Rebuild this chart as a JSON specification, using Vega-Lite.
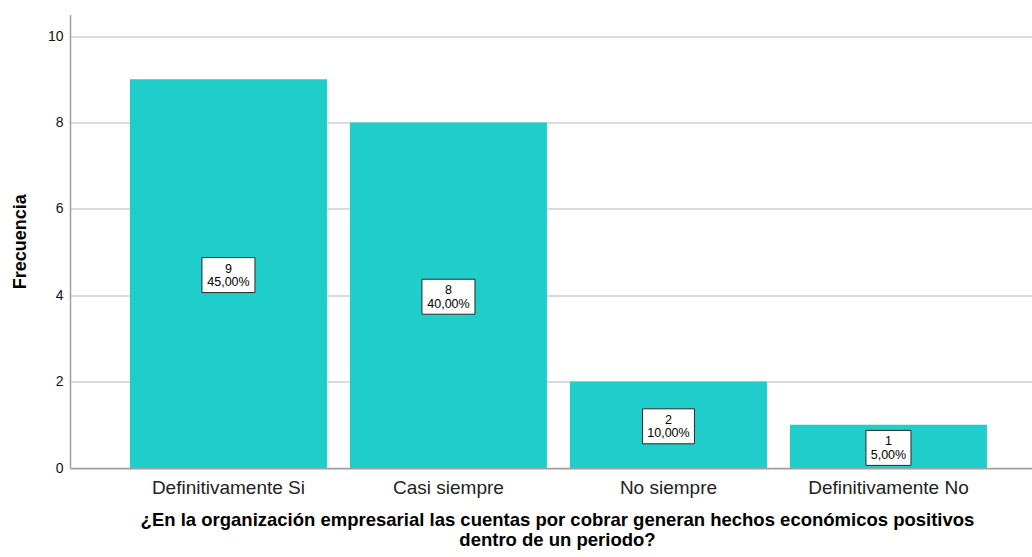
{
  "$schema": "https://vega.github.io/schema/vega-lite/v6.json",
  "width": 962,
  "height": 453.6,
  "autosize": {"type": "none"},
  "padding": {"left": 70, "top": 14.4, "right": 0, "bottom": 89},
  "background": "white",
  "config": {
    "view": {"stroke": null},
    "font": "Liberation Sans"
  },
  "data": {
    "values": [
      {"cat": "Definitivamente Si", "n": 9, "pct": "45,00%"},
      {"cat": "Casi siempre", "n": 8, "pct": "40,00%"},
      {"cat": "No siempre", "n": 2, "pct": "10,00%"},
      {"cat": "Definitivamente No", "n": 1, "pct": "5,00%"}
    ]
  },
  "encoding": {
    "x": {
      "field": "cat",
      "type": "nominal",
      "sort": null,
      "scale": {"paddingInner": 0.1045, "paddingOuter": 0.2386, "align": 0.571},
      "axis": {
        "title": ["¿En la organización empresarial las cuentas por cobrar generan hechos económicos positivos", "dentro de un periodo?"],
        "titleFontSize": 18.5,
        "titleFontWeight": "bold",
        "titleColor": "#000000",
        "titleLineHeight": 20,
        "titleBaseline": "alphabetic",
        "titleAlign": "center",
        "titleAnchor": "start",
        "titleX": 487,
        "titleY": 57,
        "labelAngle": 0,
        "labelFontSize": 19,
        "labelColor": "#222222",
        "labelPadding": 10,
        "ticks": false,
        "domainColor": "#a0a0a0",
        "domainWidth": 1.5,
        "grid": false
      }
    }
  },
  "layer": [
    {
      "mark": {"type": "bar", "color": "#1fcecb"},
      "encoding": {
        "y": {
          "field": "n",
          "type": "quantitative",
          "scale": {"domain": [0, 10.5], "nice": false},
          "axis": {
            "title": "Frecuencia",
            "titleFontSize": 18,
            "titleFontWeight": "bold",
            "titleColor": "#000000",
            "titleAngle": -90,
            "titleBaseline": "middle",
            "titleAlign": "center",
            "titleAnchor": "middle",
            "titleX": -50,
            "values": [0, 2, 4, 6, 8, 10],
            "labelFontSize": 14,
            "labelColor": "#111111",
            "labelPadding": 7,
            "ticks": false,
            "domainColor": "#a0a0a0",
            "domainWidth": 1.5,
            "grid": true,
            "gridColor": "#cfcfcf",
            "gridWidth": 1.5
          }
        }
      }
    },
    {
      "mark": {"type": "point", "filled": true, "fill": "white", "stroke": "#2a2a2a", "strokeWidth": 1, "opacity": 1, "size": 2809, "yOffset": 1.5},
      "encoding": {
        "y": {"field": "n", "type": "quantitative", "scale": {"domain": [0, 21], "nice": false}, "axis": null},
        "shape": {
          "field": "cat",
          "type": "nominal",
          "scale": {
            "domain": ["Definitivamente Si", "Casi siempre", "No siempre", "Definitivamente No"],
            "range": ["M-1,-0.66L1,-0.66L1,0.66L-1,0.66Z", "M-1,-0.66L1,-0.66L1,0.66L-1,0.66Z", "M-0.98,-0.66L0.98,-0.66L0.98,0.66L-0.98,0.66Z", "M-0.849,-0.66L0.849,-0.66L0.849,0.66L-0.849,0.66Z"]
          },
          "legend": null
        }
      }
    },
    {
      "mark": {"type": "text", "fontSize": 12.5, "color": "#000000", "baseline": "middle", "align": "center", "dy": -5},
      "encoding": {
        "y": {"field": "n", "type": "quantitative", "scale": {"domain": [0, 21], "nice": false}, "axis": null},
        "text": {"field": "n", "type": "quantitative"}
      }
    },
    {
      "mark": {"type": "text", "fontSize": 12.5, "color": "#000000", "baseline": "middle", "align": "center", "dy": 8.6},
      "encoding": {
        "y": {"field": "n", "type": "quantitative", "scale": {"domain": [0, 21], "nice": false}, "axis": null},
        "text": {"field": "pct", "type": "nominal"}
      }
    }
  ],
  "resolve": {"scale": {"y": "independent"}}
}
